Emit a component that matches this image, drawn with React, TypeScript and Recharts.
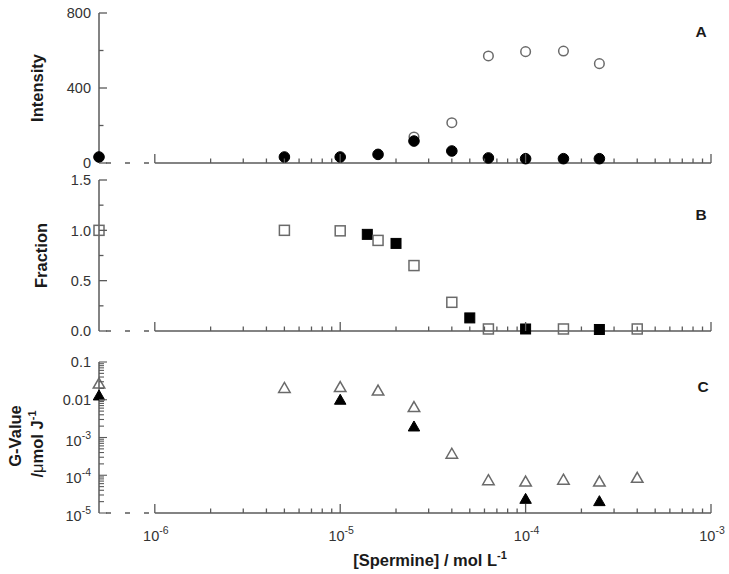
import React from "react";
import { ScatterChart, Scatter, XAxis, YAxis, ReferenceLine } from "recharts";

// zero-concentration control, drawn on the broken part of the x axis
const CONTROL = 5e-7;

// panel A – intensity
const intensityFilledConc = [CONTROL, 5e-6, 1e-5, 1.6e-5, 2.5e-5, 4e-5, 6.3e-5, 1e-4, 1.6e-4, 2.5e-4];
const intensityFilled = [32, 32, 32, 46, 117, 64, 27, 23, 23, 23];
const intensityOpenConc = [2.5e-5, 4e-5, 6.3e-5, 1e-4, 1.6e-4, 2.5e-4];
const intensityOpen = [139, 215, 571, 594, 597, 530];

// panel B – fraction
const fractionOpenConc = [CONTROL, 5e-6, 1e-5, 1.6e-5, 2.5e-5, 4e-5, 6.3e-5, 1.6e-4, 4e-4];
const fractionOpen = [1.0, 1.0, 0.995, 0.9, 0.65, 0.285, 0.02, 0.02, 0.02];
const fractionFilledConc = [1.4e-5, 2e-5, 5e-5, 1e-4, 2.5e-4];
const fractionFilled = [0.96, 0.87, 0.13, 0.02, 0.015];

// panel C – G-value
const gOpenConc = [CONTROL, 5e-6, 1e-5, 1.6e-5, 2.5e-5, 4e-5, 6.3e-5, 1e-4, 1.6e-4, 2.5e-4, 4e-4];
const gOpen = [0.026, 0.02, 0.021, 0.017, 0.0062, 3.6e-4, 7.2e-5, 6.6e-5, 7.4e-5, 6.6e-5, 8.3e-5];
const gFilledConc = [CONTROL, 1e-5, 2.5e-5, 1e-4, 2.5e-4];
const gFilled = [0.0126, 0.0097, 1.9e-3, 2.3e-5, 2.0e-5];

// ticks
const xDecades = [1e-6, 1e-5, 1e-4, 1e-3];
const gDecades = [1e-5, 1e-4, 1e-3, 1e-2, 1e-1];
const intensityTicks = [0, 200, 400, 600, 800];
const intensityLabels = [0, 400, 800];
const fractionTicks = [0, 0.25, 0.5, 0.75, 1.0, 1.25, 1.5];
const fractionLabels = [0, 0.5, 1.0, 1.5];
const mantissas = [1, 2, 3, 4, 5, 6, 7, 8, 9];

const logTicks = (decades: number[]) =>
  decades.flatMap((d, i) => (i < decades.length - 1 ? mantissas.map((m) => m * d) : [d]));

const xTicks = logTicks(xDecades);
const gTicks = logTicks(gDecades);

const AXIS = "#5a5a5a";
const TEXT = "#333";
const FONT = "'Liberation Sans', Arial, Helvetica, sans-serif";
const W = 729;

const isDecade = (v: number) => Math.abs(Math.log10(v) - Math.round(Math.log10(v))) < 1e-6;
const points = (xs: number[], ys: number[]) => xs.map((x, i) => ({ x, y: ys[i] }));

function Marker({ cx, cy, kind, filled }: any) {
  if (cx == null || cy == null) return null;
  const fill = filled ? "#000" : "none";
  const stroke = filled ? "#000" : "#6a6a6a";
  const sw = filled ? 1 : 1.5;
  if (kind === "circle") {
    return <circle cx={cx} cy={cy} r={filled ? 5.3 : 4.8} fill={fill} stroke={stroke} strokeWidth={sw} />;
  }
  if (kind === "square") {
    const s = 10;
    return <rect x={cx - s / 2} y={cy - s / 2} width={s} height={s} fill={fill} stroke={stroke} strokeWidth={sw} />;
  }
  const h = 10;
  const w = 11.5;
  return (
    <polygon
      points={`${cx},${cy - h * 0.6} ${cx + w / 2},${cy + h * 0.4} ${cx - w / 2},${cy + h * 0.4}`}
      fill={fill}
      stroke={stroke}
      strokeWidth={sw}
    />
  );
}

function XTick({ x, y, payload, showLabels }: any) {
  const v = payload.value;
  const major = isDecade(v);
  return (
    <g>
      <line x1={x} x2={x} y1={y} y2={y - (major ? 9 : 4.5)} stroke={AXIS} strokeWidth={1.3} />
      {showLabels && major && (
        <text x={x + 1} y={y + 28} textAnchor="middle" fill={TEXT} fontSize={14.5} fontFamily={FONT}>
          10
          <tspan dy={-7} fontSize={10.5}>
            {Math.round(Math.log10(v))}
          </tspan>
        </text>
      )}
    </g>
  );
}

function LinearYTick({ x, y, payload, labels, digits }: any) {
  const v = payload.value;
  const major = labels.some((l: number) => Math.abs(l - v) < 1e-9);
  return (
    <g>
      <line x1={x} x2={x + (major ? 8 : 4.5)} y1={y} y2={y} stroke={AXIS} strokeWidth={1.3} />
      {major && (
        <text x={x - 8} y={y} dy="0.36em" textAnchor="end" fill={TEXT} fontSize={14.5} fontFamily={FONT}>
          {v.toFixed(digits)}
        </text>
      )}
    </g>
  );
}

function LogYTick({ x, y, payload }: any) {
  const v = payload.value;
  const major = isDecade(v);
  const exp = Math.round(Math.log10(v));
  return (
    <g>
      <line x1={x} x2={x + (major ? 8 : 5)} y1={y} y2={y} stroke={AXIS} strokeWidth={1.1} />
      {major &&
        (exp >= -2 ? (
          <text x={x - 8} y={y} dy="0.36em" textAnchor="end" fill={TEXT} fontSize={14.5} fontFamily={FONT}>
            {exp === -1 ? "0.1" : "0.01"}
          </text>
        ) : (
          <text x={x - 8} y={y + 8} textAnchor="end" fill={TEXT} fontSize={14.5} fontFamily={FONT}>
            10
            <tspan dy={-7} fontSize={10.5}>
              {exp}
            </tspan>
          </text>
        ))}
    </g>
  );
}

function XAxisLines({ y }: { y: number }) {
  return (
    <>
      <ReferenceLine
        segment={[{ x: CONTROL, y }, { x: 1e-6, y }]}
        stroke={AXIS}
        strokeWidth={1.5}
        strokeDasharray="0 7 5 7"
        ifOverflow="visible"
      />
      <ReferenceLine
        segment={[{ x: 1e-6, y }, { x: 1e-3, y }]}
        stroke={AXIS}
        strokeWidth={1.5}
        ifOverflow="visible"
      />
    </>
  );
}

const xAxisProps = {
  dataKey: "x",
  type: "number" as const,
  scale: "log" as const,
  domain: [CONTROL, 1e-3],
  ticks: xTicks,
  interval: 0,
  axisLine: false,
  tickLine: false,
  tickSize: 0,
  tickMargin: 0,
};

const yAxisBase = {
  dataKey: "y",
  type: "number" as const,
  width: 60,
  interval: 0,
  axisLine: { stroke: AXIS, strokeWidth: 1.5 },
  tickLine: false,
  tickSize: 0,
  tickMargin: 0,
};

const margin = (top: number) => ({ top, right: 18, left: 39, bottom: 0 });

export default function App() {
  return (
    <div style={{ position: "absolute", left: 0, top: 0, width: W, height: 574, background: "#fff", fontFamily: FONT }}>
      <div style={{ position: "absolute", left: 0, top: 0 }}>
        <ScatterChart width={W} height={170} margin={margin(13)}>
          <XAxis {...xAxisProps} height={7} tick={(p: any) => <XTick {...p} />} />
          <YAxis
            {...yAxisBase}
            domain={[0, 800]}
            ticks={intensityTicks}
            tick={(p: any) => <LinearYTick {...p} labels={intensityLabels} digits={0} />}
          />
          <XAxisLines y={0} />
          <Scatter
            data={points(intensityOpenConc, intensityOpen)}
            isAnimationActive={false}
            shape={(p: any) => <Marker {...p} kind="circle" />}
          />
          <Scatter
            data={points(intensityFilledConc, intensityFilled)}
            isAnimationActive={false}
            shape={(p: any) => <Marker {...p} kind="circle" filled />}
          />
        </ScatterChart>
      </div>
      <div style={{ position: "absolute", left: 0, top: 170 }}>
        <ScatterChart width={W} height={170} margin={margin(10)}>
          <XAxis {...xAxisProps} height={9} tick={(p: any) => <XTick {...p} />} />
          <YAxis
            {...yAxisBase}
            domain={[0, 1.5]}
            ticks={fractionTicks}
            tick={(p: any) => <LinearYTick {...p} labels={fractionLabels} digits={1} />}
          />
          <XAxisLines y={0} />
          <Scatter
            data={points(fractionFilledConc, fractionFilled)}
            isAnimationActive={false}
            shape={(p: any) => <Marker {...p} kind="square" filled />}
          />
          <Scatter
            data={points(fractionOpenConc, fractionOpen)}
            isAnimationActive={false}
            shape={(p: any) => <Marker {...p} kind="square" />}
          />
        </ScatterChart>
      </div>
      <div style={{ position: "absolute", left: 0, top: 340 }}>
        <ScatterChart width={W} height={234} margin={margin(22)}>
          <XAxis {...xAxisProps} height={61} tick={(p: any) => <XTick {...p} showLabels />} />
          <YAxis
            {...yAxisBase}
            scale="log"
            domain={[1e-5, 0.1]}
            ticks={gTicks}
            tick={(p: any) => <LogYTick {...p} />}
          />
          <XAxisLines y={1e-5} />
          <Scatter
            data={points(gOpenConc, gOpen)}
            isAnimationActive={false}
            shape={(p: any) => <Marker {...p} kind="triangle" />}
          />
          <Scatter
            data={points(gFilledConc, gFilled)}
            isAnimationActive={false}
            shape={(p: any) => <Marker {...p} kind="triangle" filled />}
          />
        </ScatterChart>
      </div>
      <svg
        width={W}
        height={574}
        style={{ position: "absolute", left: 0, top: 0, pointerEvents: "none" }}
        fontFamily={FONT}
        fontWeight="bold"
        fill="#1a1a1a"
      >
        <text transform="translate(43,88) rotate(-90)" textAnchor="middle" fontSize={16.5}>
          Intensity
        </text>
        <text transform="translate(47,255.5) rotate(-90)" textAnchor="middle" fontSize={16.5}>
          Fraction
        </text>
        <text transform="translate(21,436) rotate(-90)" textAnchor="middle" fontSize={16.5}>
          G-Value
        </text>
        <text transform="translate(43,444) rotate(-90)" textAnchor="middle" fontSize={16.5}>
          /<tspan fontWeight="normal">μ</tspan>mol J
          <tspan dy={-7} fontSize={11}>
            -1
          </tspan>
        </text>
        <text x={430} y={565.5} textAnchor="middle" fontSize={16.5}>
          [Spermine] / mol L
          <tspan dy={-7} fontSize={11}>
            -1
          </tspan>
        </text>
        <text x={701} y={37} textAnchor="middle" fontSize={15.5}>
          A
        </text>
        <text x={701} y={220} textAnchor="middle" fontSize={15.5}>
          B
        </text>
        <text x={703} y={392} textAnchor="middle" fontSize={15.5}>
          C
        </text>
      </svg>
    </div>
  );
}
